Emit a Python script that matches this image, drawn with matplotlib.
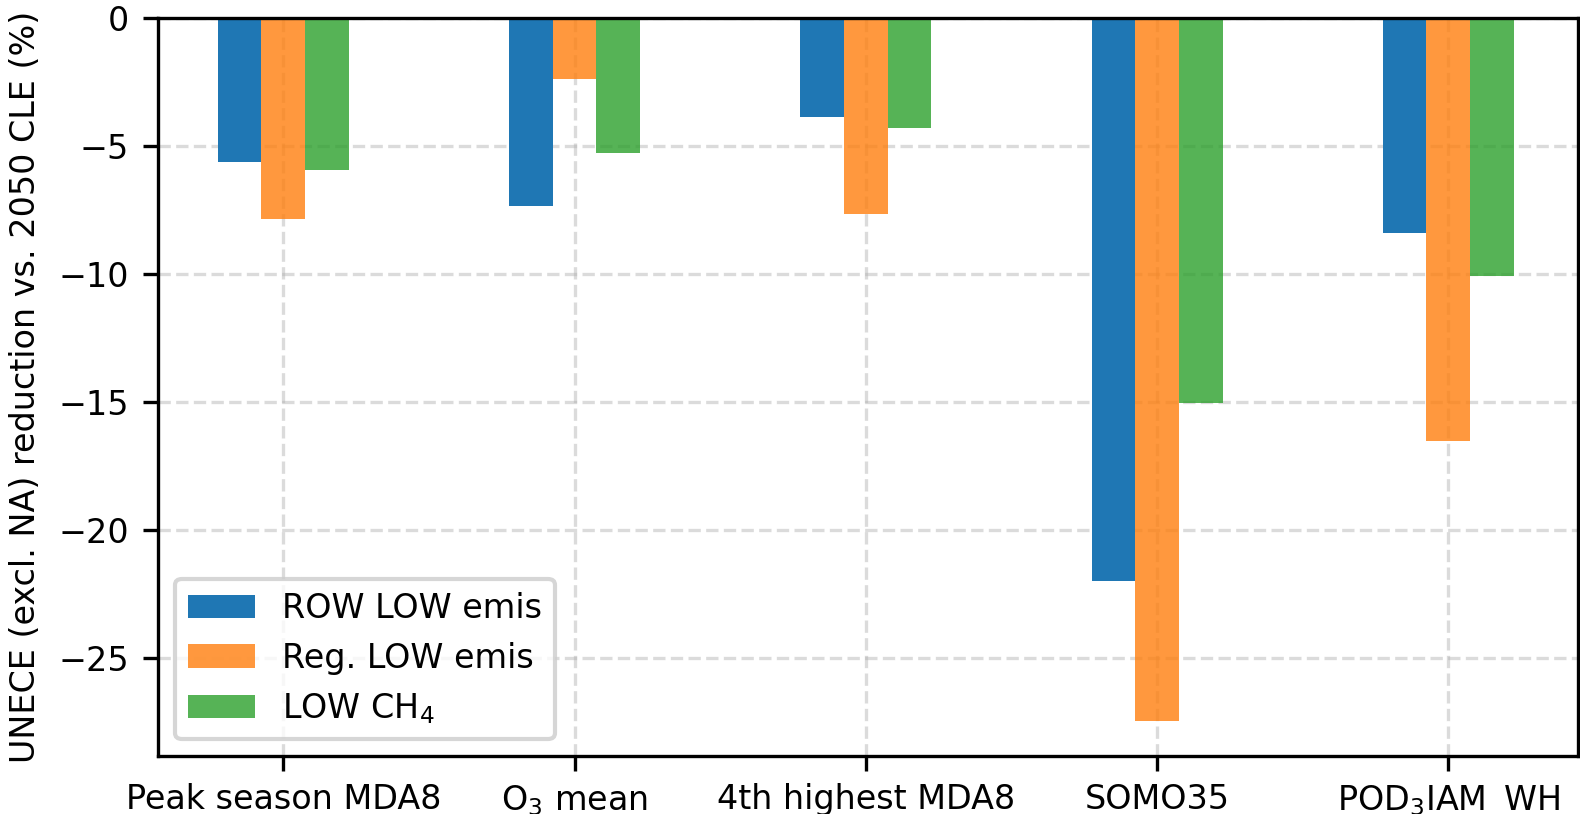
import numpy as np
import matplotlib.pyplot as plt

plt.rcParams['font.size'] = 8

metricas = ['Peak season MDA8', 'O$_3$ mean', '4th highest MDA8', 'SOMO35', 'POD$_3$IAM_WH']
row_low = [-5.62, -7.34, -3.87, -21.97, -8.42]
reg_low = [-7.85, -2.39, -7.65, -27.43, -16.50]
low_ch4 = [-5.94, -5.30, -4.31, -15.05, -10.09]

x = np.arange(len(metricas))
w = 0.15

fig = plt.figure(figsize=(1580/300, 814/300), dpi=300)
ax = fig.add_axes([0.1002, 0.0714, 0.8983, 0.9071])

ax.bar(x - w, row_low, w, color='#1f77b4', label='ROW LOW emis')
ax.bar(x, reg_low, w, color='#ff7f0e', alpha=0.8, label='Reg. LOW emis')
ax.bar(x + w, low_ch4, w, color='#2ca02c', alpha=0.8, label='LOW CH$_4$')

ax.set_xticks(x)
ax.set_xticklabels(metricas)
ax.tick_params(axis='x', pad=3.0)
ax.set_xlim(-0.429, 4.444)
ax.set_ylabel('UNECE (excl. NA) reduction vs. 2050 CLE (%)')
ax.set_axisbelow(True)
ax.grid(True, linestyle='--', alpha=0.45)
ax.legend(loc='lower left')

fig.savefig('out.png', dpi=300)
